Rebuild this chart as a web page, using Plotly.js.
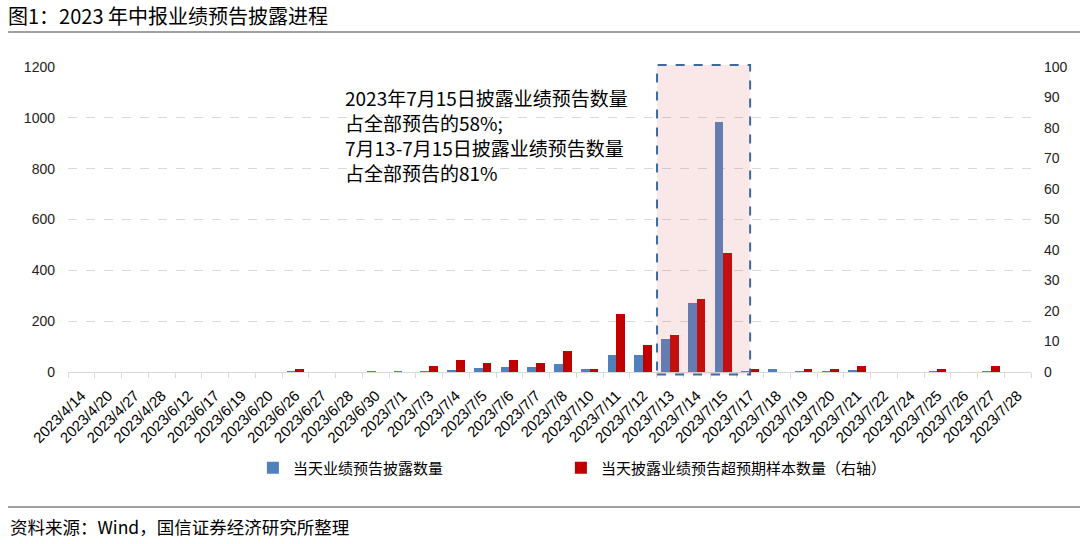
<!DOCTYPE html>
<html>
<head>
<meta charset="utf-8">
<script src="https://cdn.plot.ly/plotly-3.0.1.min.js"></script>
<style>html,body{margin:0;padding:0;background:#fff;}#chart{width:1080px;height:544px;}</style>
</head>
<body>
<div id="chart"></div>
<script>
const categories = ["2023/4/14","2023/4/20","2023/4/27","2023/4/28","2023/6/12","2023/6/17","2023/6/19","2023/6/20","2023/6/26","2023/6/27","2023/6/28","2023/6/30","2023/7/1","2023/7/3","2023/7/4","2023/7/5","2023/7/6","2023/7/7","2023/7/8","2023/7/10","2023/7/11","2023/7/12","2023/7/13","2023/7/14","2023/7/15","2023/7/17","2023/7/18","2023/7/19","2023/7/20","2023/7/21","2023/7/22","2023/7/24","2023/7/25","2023/7/26","2023/7/27","2023/7/28"];
const disclosedCount = [1,1,1,1,1,1,1,1,2,1,1,2,2,4,8,15,20,18,30,13,65,65,131,271,983,3,10,3,2,8,1,1,3,1,4,1];
const beatCount = [0,0,0,0,0,0,0,0,1,0,0,0,0,2,4,3,4,3,7,1,19,9,12,24,39,1,0,1,1,2,0,0,1,0,2,0];
const seriesNames = ["当天业绩预告披露数量","当天披露业绩预告超预期样本数量（右轴）"];
const titleText = "图1：2023 年中报业绩预告披露进程";
const sourceText = "资料来源：Wind，国信证券经济研究所整理";
const noteLines = ["2023年7月15日披露业绩预告数量","占全部预告的58%;","7月13-7月15日披露业绩预告数量","占全部预告的81%"];
const highlightStart = "2023/7/13";
const highlightEnd = "2023/7/17";

const FONT = "Liberation Sans, Arial, Noto Sans CJK SC, sans-serif";
const CJK = "Noto Sans CJK SC, Liberation Sans, sans-serif";

const W = 0.325;
const traces = [
  {type:'bar', name:seriesNames[0], x:categories, y:disclosedCount, yaxis:'y', legend:'legend',
   marker:{color:'#4f81bd'}, width:W, offset:-W, hoverinfo:'skip'},
  {type:'bar', name:seriesNames[1], x:categories, y:beatCount, yaxis:'y2', legend:'legend2',
   marker:{color:'#c00000'}, width:W, offset:0, hoverinfo:'skip'}
];

const i0 = categories.indexOf(highlightStart);
const i1 = categories.indexOf(highlightEnd);

const annotations = noteLines.map((t, k) => ({
  text: t, xref:'paper', yref:'paper', x:(343-68)/963, y:(372-97-k*25.2)/305,
  xanchor:'left', yanchor:'middle', showarrow:false, align:'left',
  font:{family:CJK, size:19, color:'#000'}
}));
annotations.push({
  text: sourceText, xref:'paper', yref:'paper', x:(8-68)/963, y:(372-526)/305,
  xanchor:'left', yanchor:'middle', showarrow:false,
  font:{family:CJK, size:17.5, color:'#000'}
});

const legendFont = {family:CJK, size:15, color:'#000'};
const layout = {
  width:1080, height:544,
  margin:{l:68, r:49, t:67, b:172},
  paper_bgcolor:'#fff', plot_bgcolor:'#fff',
  font:{family:FONT, color:'#000'},
  title:{text:titleText, x:8/1080, xanchor:'left', xref:'container', y:1-17/544, yref:'container', yanchor:'middle',
         font:{family:CJK, size:20, color:'#000'}},
  barmode:'overlay',
  bargap:0,
  xaxis:{type:'category', tickangle:-45, tickfont:{family:FONT, size:15, color:'#000'},
         showline:true, linecolor:'#d9d9d9', linewidth:1, ticks:'outside', tickson:'boundaries',
         ticklen:5, tickcolor:'#d9d9d9', showgrid:false, zeroline:false, fixedrange:true,
         ticklabelstandoff:8, range:[-0.5, categories.length-0.5]},
  yaxis:{range:[0,1200], dtick:200, showgrid:true, gridcolor:'#d9d9d9', griddash:'dash', gridwidth:1,
         zeroline:false, showline:false, ticks:'', tickfont:{family:FONT, size:14, color:'#222'},
         ticklabelstandoff:12, fixedrange:true},
  yaxis2:{range:[0,100], dtick:10, overlaying:'y', side:'right', showgrid:false, zeroline:false,
          showline:false, ticks:'', tickfont:{family:FONT, size:14, color:'#222'},
          ticklabelstandoff:12, fixedrange:true},
  showlegend:true,
  legend:{orientation:'h', x:0.192, xanchor:'left', y:(372-468)/305, yanchor:'middle',
          font:legendFont, bgcolor:'rgba(0,0,0,0)'},
  legend2:{orientation:'h', x:0.192+308/963, xanchor:'left', y:(372-468)/305, yanchor:'middle',
          font:legendFont, bgcolor:'rgba(0,0,0,0)'},
  shapes:[
    {type:'rect', xref:'x', yref:'paper', x0:i0-0.48, x1:i1, y0:-0.008, y1:(372-65)/305, layer:'above',
     fillcolor:'rgba(220,100,100,0.15)', line:{color:'#3d6a9c', width:2, dash:'dash'}},
    {type:'line', xref:'paper', yref:'paper', x0:(8-68)/963, x1:(1080-68)/963, y0:(372-32)/305, y1:(372-32)/305,
     line:{color:'#808080', width:1.5}},
    {type:'line', xref:'paper', yref:'paper', x0:(8-68)/963, x1:(1080-68)/963, y0:(372-507)/305, y1:(372-507)/305,
     line:{color:'#808080', width:1.5}}
  ],
  annotations:annotations
};

Plotly.newPlot('chart', traces, layout, {displayModeBar:false, staticPlot:true});
</script>
</body>
</html>
